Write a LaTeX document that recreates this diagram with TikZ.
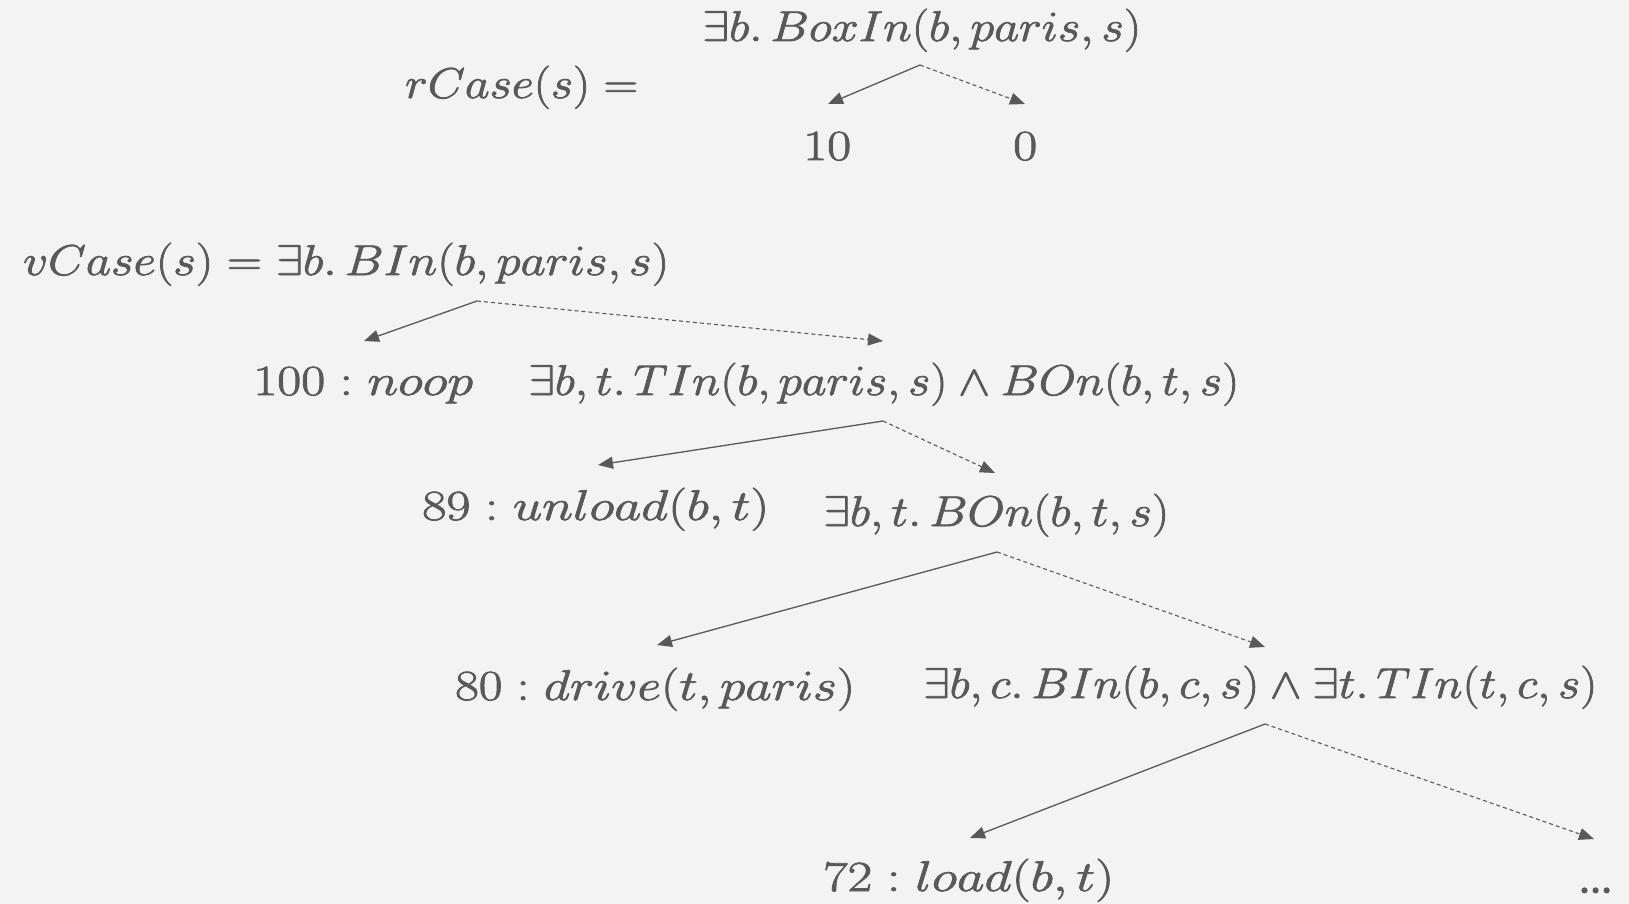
\RequirePackage{fix-cm}
\documentclass[tikz,border=0pt]{standalone}
\usepackage{graphicx}
\usetikzlibrary{arrows.meta}

\definecolor{bg}{HTML}{F3F3F3}
\definecolor{ink}{HTML}{595959}

% glyphs are filled and stroked so that the thin strokes look fuller
\newcommand{\heavy}[1]{\special{pdf:code 2 Tr 0.7 w}#1\special{pdf:code 0 Tr}}
% stretch a formula horizontally to a given width, keeping its height
\newcommand{\fitw}[2]{\heavy{\resizebox{#1}{\height}{$#2$}}}

\tikzset{
  formula/.style={anchor=base west, inner sep=0pt, text=ink,
                  font=\fontsize{43}{50}\selectfont},
  thenbr/.style={draw=ink, line width=1.3pt,
                 -{Triangle[length=15pt,width=12pt]}},
  elsebr/.style={thenbr, line width=1.1pt, dash pattern=on 4pt off 3pt},
}

\begin{document}
\begin{tikzpicture}[x=1pt,y=-1pt]
  \fill[bg] (0,0) rectangle (1629,904);
  \useasboundingbox (0,0) rectangle (1629,904);

  % reward case
  \node[formula] (rcase) at (405,98)  {\fitw{233pt}{rCase(s) =}};
  \node[formula] (rc)    at (702,41)  {\fitw{439pt}{\exists b.\,BoxIn(b, paris, s)}};
  \node[formula] (r10)   at (803,160) {\fitw{48pt}{10}};
  \node[formula] (r0)    at (1013,160){\fitw{24pt}{0}};

  % value case
  \node[formula] (vc)    at (23,275)  {\fitw{646pt}{vCase(s) = \exists b.\,BIn(b, paris, s)}};
  \node[formula] (v100)  at (253,395) {\fitw{220pt}{100 : noop}};
  \node[formula] (c2)    at (528,395) {\fitw{711pt}{\exists b, t.\,TIn(b, paris, s) \wedge BOn(b, t, s)}};
  \node[formula] (v89)   at (422,520) {\fitw{347pt}{89 : unload(b, t)}};
  \node[formula] (c3)    at (823,526) {\fitw{346pt}{\exists b, t.\,BOn(b, t, s)}};
  \node[formula] (v80)   at (455,700) {\fitw{400pt}{80 : drive(t, paris)}};
  \node[formula] (c4)    at (923,698) {\fitw{674pt}{\exists b, c.\,BIn(b, c, s) \wedge \exists t.\,TIn(t, c, s)}};
  \node[formula] (v72)   at (823,891) {\fitw{291pt}{72 : load(b, t)}};
  \node[formula] (more)  at (1577,893){\heavy{\scalebox{1.25}{$.\kern-2.8pt.\kern-2.8pt.$}}};

  % branch points and arrow ends
  \coordinate (rcB)  at (920,65);
  \coordinate (r10T) at (828,104);
  \coordinate (r0T)  at (1025,104);

  \coordinate (vcB)   at (477,301);
  \coordinate (v100T) at (364,341);
  \coordinate (c2T)   at (883,341);

  \coordinate (c2B)  at (883,421);
  \coordinate (v89T) at (598,465);
  \coordinate (c3T)  at (995,473);

  \coordinate (c3B)  at (997,552);
  \coordinate (v80T) at (657,645);
  \coordinate (c4T)  at (1265,647);

  \coordinate (c4B)   at (1265,724);
  \coordinate (v72T)  at (970,838);
  \coordinate (moreT) at (1594,839);

  \draw[thenbr] (rcB) -- (r10T);
  \draw[elsebr] (rcB) -- (r0T);
  \draw[thenbr] (vcB) -- (v100T);
  \draw[elsebr] (vcB) -- (c2T);
  \draw[thenbr] (c2B) -- (v89T);
  \draw[elsebr] (c2B) -- (c3T);
  \draw[thenbr] (c3B) -- (v80T);
  \draw[elsebr] (c3B) -- (c4T);
  \draw[thenbr] (c4B) -- (v72T);
  \draw[elsebr] (c4B) -- (moreT);
\end{tikzpicture}
\end{document}
